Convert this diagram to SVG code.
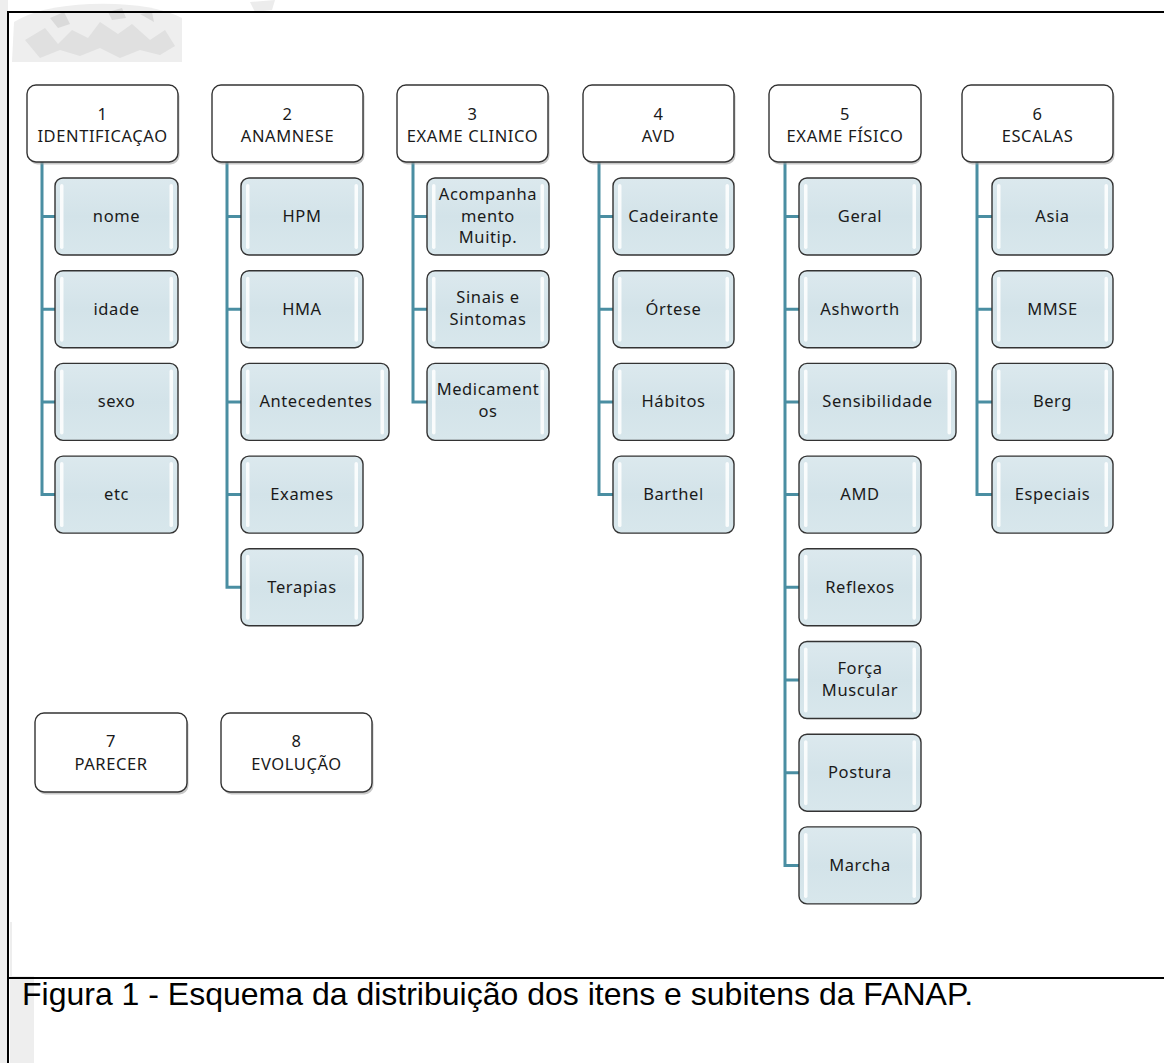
<svg xmlns="http://www.w3.org/2000/svg" width="1164" height="1063" viewBox="0 0 1164 1063">
<defs>
<style>
.hd{fill:#fff;stroke:#333;stroke-width:1.4}
.sh{fill:#9a9a9a;opacity:.55}
.ch{fill:url(#cg);stroke:#333;stroke-width:1.4}
.hl{fill:#fff;opacity:.85}
.t{font-family:"Noto Sans","Open Sans",sans-serif;font-size:16.5px;letter-spacing:0.6px;fill:#1a1a1a;text-anchor:middle}
.cn{fill:none;stroke:#4a8ea2;stroke-width:3}
.cap{font-family:"Liberation Sans",Arial,sans-serif;font-size:32px;fill:#000}
.bd{stroke:#000;stroke-width:2;fill:none}
</style>
<linearGradient id="cg" x1="0" y1="0" x2="0" y2="1">
<stop offset="0" stop-color="#dce9ee"/>
<stop offset="0.5" stop-color="#d3e3e9"/>
<stop offset="1" stop-color="#d8e7ec"/>
</linearGradient>
</defs>
<rect width="1164" height="1063" fill="#fff"/>
<g id="watermark">
<rect x="0" y="0" width="8" height="1063" fill="#eeeeee"/>
<path d="M14 22 Q40 6 90 4 Q150 2 182 18 L182 62 L12 62 Z" fill="#eeeeee"/>
<path d="M25 40 L45 28 L58 44 L72 30 L88 38 L100 22 L118 34 L132 24 L150 40 L165 30 L175 46 L160 55 L140 50 L120 58 L100 48 L80 56 L60 50 L40 58 Z" fill="#e0e0e0"/>
<path d="M50 18 L64 12 L70 24 L58 28 Z M108 12 L122 8 L126 18 L112 20 Z M140 14 L152 12 L154 22 Z" fill="#dadada"/>
<path d="M250 2 L275 0 L272 10 L255 12 Z" fill="#ececec"/>
<rect x="10" y="922" width="24" height="141" fill="#eeeeee"/>
</g>
<rect x="12" y="62" width="1152" height="914" fill="#fff"/>
<g id="border">
<path class="bd" d="M8 1063 V12 H1164"/>
<path class="bd" d="M8 978 H1164"/>
</g>
<g id="connectors">
<path class="cn" d="M42 162 V494.6 H55 M42 216.5 H55 M42 309.2 H55 M42 401.9 H55"/>
<path class="cn" d="M227 162 V587.3 H241 M227 216.5 H241 M227 309.2 H241 M227 401.9 H241 M227 494.6 H241"/>
<path class="cn" d="M413 162 V401.9 H427 M413 216.5 H427 M413 309.2 H427"/>
<path class="cn" d="M599 162 V494.6 H613 M599 216.5 H613 M599 309.2 H613 M599 401.9 H613"/>
<path class="cn" d="M785 162 V865.4 H799 M785 216.5 H799 M785 309.2 H799 M785 401.9 H799 M785 494.6 H799 M785 587.3 H799 M785 680 H799 M785 772.7 H799"/>
<path class="cn" d="M977 162 V494.6 H992 M977 216.5 H992 M977 309.2 H992 M977 401.9 H992"/>
</g>
<g id="h1"><rect class="sh" x="28.5" y="87.5" width="151" height="77" rx="9"/><rect class="hd" x="27" y="85" width="151" height="77" rx="9"/><text class="t" x="102.5" y="120">1</text><text class="t" x="102.5" y="142">IDENTIFICAÇAO</text></g>
<g id="h2"><rect class="sh" x="213.5" y="87.5" width="151" height="77" rx="9"/><rect class="hd" x="212" y="85" width="151" height="77" rx="9"/><text class="t" x="287.5" y="120">2</text><text class="t" x="287.5" y="142">ANAMNESE</text></g>
<g id="h3"><rect class="sh" x="398.5" y="87.5" width="151" height="77" rx="9"/><rect class="hd" x="397" y="85" width="151" height="77" rx="9"/><text class="t" x="472.5" y="120">3</text><text class="t" x="472.5" y="142">EXAME CLINICO</text></g>
<g id="h4"><rect class="sh" x="584.5" y="87.5" width="151" height="77" rx="9"/><rect class="hd" x="583" y="85" width="151" height="77" rx="9"/><text class="t" x="658.5" y="120">4</text><text class="t" x="658.5" y="142">AVD</text></g>
<g id="h5"><rect class="sh" x="770.5" y="87.5" width="151" height="77" rx="9"/><rect class="hd" x="769" y="85" width="152" height="77" rx="9"/><text class="t" x="845" y="120">5</text><text class="t" x="845" y="142">EXAME FÍSICO</text></g>
<g id="h6"><rect class="sh" x="963.5" y="87.5" width="151" height="77" rx="9"/><rect class="hd" x="962" y="85" width="151" height="77" rx="9"/><text class="t" x="1037.5" y="120">6</text><text class="t" x="1037.5" y="142">ESCALAS</text></g>
<g id="h7"><rect class="sh" x="36.5" y="715.5" width="152" height="79" rx="9"/><rect class="hd" x="35" y="713" width="152" height="79" rx="9"/><text class="t" x="111" y="747">7</text><text class="t" x="111" y="770">PARECER</text></g>
<g id="h8"><rect class="sh" x="222.5" y="715.5" width="151" height="79" rx="9"/><rect class="hd" x="221" y="713" width="151" height="79" rx="9"/><text class="t" x="296.5" y="747">8</text><text class="t" x="296.5" y="770">EVOLUÇÃO</text></g>

<g id="c1a"><rect class="ch" x="55" y="178" width="123" height="77" rx="8"/><rect class="hl" x="60" y="184" width="3.5" height="65" rx="1.7"/><rect class="hl" x="169.5" y="184" width="3.5" height="65" rx="1.7"/><text class="t" x="116.5" y="222">nome</text></g>
<g id="c1b"><rect class="ch" x="55" y="270.7" width="123" height="77" rx="8"/><rect class="hl" x="60" y="276.7" width="3.5" height="65" rx="1.7"/><rect class="hl" x="169.5" y="276.7" width="3.5" height="65" rx="1.7"/><text class="t" x="116.5" y="314.7">idade</text></g>
<g id="c1c"><rect class="ch" x="55" y="363.4" width="123" height="77" rx="8"/><rect class="hl" x="60" y="369.4" width="3.5" height="65" rx="1.7"/><rect class="hl" x="169.5" y="369.4" width="3.5" height="65" rx="1.7"/><text class="t" x="116.5" y="407.4">sexo</text></g>
<g id="c1d"><rect class="ch" x="55" y="456.1" width="123" height="77" rx="8"/><rect class="hl" x="60" y="462.1" width="3.5" height="65" rx="1.7"/><rect class="hl" x="169.5" y="462.1" width="3.5" height="65" rx="1.7"/><text class="t" x="116.5" y="500.1">etc</text></g>

<g id="c2a"><rect class="ch" x="241" y="178" width="122" height="77" rx="8"/><rect class="hl" x="246" y="184" width="3.5" height="65" rx="1.7"/><rect class="hl" x="354.5" y="184" width="3.5" height="65" rx="1.7"/><text class="t" x="302" y="222">HPM</text></g>
<g id="c2b"><rect class="ch" x="241" y="270.7" width="122" height="77" rx="8"/><rect class="hl" x="246" y="276.7" width="3.5" height="65" rx="1.7"/><rect class="hl" x="354.5" y="276.7" width="3.5" height="65" rx="1.7"/><text class="t" x="302" y="314.7">HMA</text></g>
<g id="c2c"><rect class="ch" x="241" y="363.4" width="148" height="77" rx="8"/><rect class="hl" x="246" y="369.4" width="3.5" height="65" rx="1.7"/><rect class="hl" x="380.5" y="369.4" width="3.5" height="65" rx="1.7"/><text class="t" x="316" y="407.4">Antecedentes</text></g>
<g id="c2d"><rect class="ch" x="241" y="456.1" width="122" height="77" rx="8"/><rect class="hl" x="246" y="462.1" width="3.5" height="65" rx="1.7"/><rect class="hl" x="354.5" y="462.1" width="3.5" height="65" rx="1.7"/><text class="t" x="302" y="500.1">Exames</text></g>
<g id="c2e"><rect class="ch" x="241" y="548.8" width="122" height="77" rx="8"/><rect class="hl" x="246" y="554.8" width="3.5" height="65" rx="1.7"/><rect class="hl" x="354.5" y="554.8" width="3.5" height="65" rx="1.7"/><text class="t" x="302" y="592.8">Terapias</text></g>

<g id="c3a"><rect class="ch" x="427" y="178" width="122" height="77" rx="8"/><rect class="hl" x="432" y="184" width="3.5" height="65" rx="1.7"/><rect class="hl" x="540.5" y="184" width="3.5" height="65" rx="1.7"/><text class="t" x="488" y="200">Acompanha</text><text class="t" x="488" y="222">mento</text><text class="t" x="488" y="243">Muitip.</text></g>
<g id="c3b"><rect class="ch" x="427" y="270.7" width="122" height="77" rx="8"/><rect class="hl" x="432" y="276.7" width="3.5" height="65" rx="1.7"/><rect class="hl" x="540.5" y="276.7" width="3.5" height="65" rx="1.7"/><text class="t" x="488" y="303">Sinais e</text><text class="t" x="488" y="325">Sintomas</text></g>
<g id="c3c"><rect class="ch" x="427" y="363.4" width="122" height="77" rx="8"/><rect class="hl" x="432" y="369.4" width="3.5" height="65" rx="1.7"/><rect class="hl" x="540.5" y="369.4" width="3.5" height="65" rx="1.7"/><text class="t" x="488" y="395">Medicament</text><text class="t" x="488" y="417">os</text></g>

<g id="c4a"><rect class="ch" x="613" y="178" width="121" height="77" rx="8"/><rect class="hl" x="618" y="184" width="3.5" height="65" rx="1.7"/><rect class="hl" x="725.5" y="184" width="3.5" height="65" rx="1.7"/><text class="t" x="673.5" y="222">Cadeirante</text></g>
<g id="c4b"><rect class="ch" x="613" y="270.7" width="121" height="77" rx="8"/><rect class="hl" x="618" y="276.7" width="3.5" height="65" rx="1.7"/><rect class="hl" x="725.5" y="276.7" width="3.5" height="65" rx="1.7"/><text class="t" x="673.5" y="314.7">Órtese</text></g>
<g id="c4c"><rect class="ch" x="613" y="363.4" width="121" height="77" rx="8"/><rect class="hl" x="618" y="369.4" width="3.5" height="65" rx="1.7"/><rect class="hl" x="725.5" y="369.4" width="3.5" height="65" rx="1.7"/><text class="t" x="673.5" y="407.4">Hábitos</text></g>
<g id="c4d"><rect class="ch" x="613" y="456.1" width="121" height="77" rx="8"/><rect class="hl" x="618" y="462.1" width="3.5" height="65" rx="1.7"/><rect class="hl" x="725.5" y="462.1" width="3.5" height="65" rx="1.7"/><text class="t" x="673.5" y="500.1">Barthel</text></g>

<g id="c5a"><rect class="ch" x="799" y="178" width="122" height="77" rx="8"/><rect class="hl" x="804" y="184" width="3.5" height="65" rx="1.7"/><rect class="hl" x="912.5" y="184" width="3.5" height="65" rx="1.7"/><text class="t" x="860" y="222">Geral</text></g>
<g id="c5b"><rect class="ch" x="799" y="270.7" width="122" height="77" rx="8"/><rect class="hl" x="804" y="276.7" width="3.5" height="65" rx="1.7"/><rect class="hl" x="912.5" y="276.7" width="3.5" height="65" rx="1.7"/><text class="t" x="860" y="314.7">Ashworth</text></g>
<g id="c5c"><rect class="ch" x="799" y="363.4" width="157" height="77" rx="8"/><rect class="hl" x="804" y="369.4" width="3.5" height="65" rx="1.7"/><rect class="hl" x="947.5" y="369.4" width="3.5" height="65" rx="1.7"/><text class="t" x="877.5" y="407.4">Sensibilidade</text></g>
<g id="c5d"><rect class="ch" x="799" y="456.1" width="122" height="77" rx="8"/><rect class="hl" x="804" y="462.1" width="3.5" height="65" rx="1.7"/><rect class="hl" x="912.5" y="462.1" width="3.5" height="65" rx="1.7"/><text class="t" x="860" y="500.1">AMD</text></g>
<g id="c5e"><rect class="ch" x="799" y="548.8" width="122" height="77" rx="8"/><rect class="hl" x="804" y="554.8" width="3.5" height="65" rx="1.7"/><rect class="hl" x="912.5" y="554.8" width="3.5" height="65" rx="1.7"/><text class="t" x="860" y="592.8">Reflexos</text></g>
<g id="c5f"><rect class="ch" x="799" y="641.5" width="122" height="77" rx="8"/><rect class="hl" x="804" y="647.5" width="3.5" height="65" rx="1.7"/><rect class="hl" x="912.5" y="647.5" width="3.5" height="65" rx="1.7"/><text class="t" x="860" y="674">Força</text><text class="t" x="860" y="696">Muscular</text></g>
<g id="c5g"><rect class="ch" x="799" y="734.2" width="122" height="77" rx="8"/><rect class="hl" x="804" y="740.2" width="3.5" height="65" rx="1.7"/><rect class="hl" x="912.5" y="740.2" width="3.5" height="65" rx="1.7"/><text class="t" x="860" y="778.2">Postura</text></g>
<g id="c5h"><rect class="ch" x="799" y="826.9" width="122" height="77" rx="8"/><rect class="hl" x="804" y="832.9" width="3.5" height="65" rx="1.7"/><rect class="hl" x="912.5" y="832.9" width="3.5" height="65" rx="1.7"/><text class="t" x="860" y="870.9">Marcha</text></g>

<g id="c6a"><rect class="ch" x="992" y="178" width="121" height="77" rx="8"/><rect class="hl" x="997" y="184" width="3.5" height="65" rx="1.7"/><rect class="hl" x="1104.5" y="184" width="3.5" height="65" rx="1.7"/><text class="t" x="1052.5" y="222">Asia</text></g>
<g id="c6b"><rect class="ch" x="992" y="270.7" width="121" height="77" rx="8"/><rect class="hl" x="997" y="276.7" width="3.5" height="65" rx="1.7"/><rect class="hl" x="1104.5" y="276.7" width="3.5" height="65" rx="1.7"/><text class="t" x="1052.5" y="314.7">MMSE</text></g>
<g id="c6c"><rect class="ch" x="992" y="363.4" width="121" height="77" rx="8"/><rect class="hl" x="997" y="369.4" width="3.5" height="65" rx="1.7"/><rect class="hl" x="1104.5" y="369.4" width="3.5" height="65" rx="1.7"/><text class="t" x="1052.5" y="407.4">Berg</text></g>
<g id="c6d"><rect class="ch" x="992" y="456.1" width="121" height="77" rx="8"/><rect class="hl" x="997" y="462.1" width="3.5" height="65" rx="1.7"/><rect class="hl" x="1104.5" y="462.1" width="3.5" height="65" rx="1.7"/><text class="t" x="1052.5" y="500.1">Especiais</text></g>

<text class="cap" x="22" y="1005">Figura 1 - Esquema da distribuição dos itens e subitens da FANAP.</text>
</svg>
